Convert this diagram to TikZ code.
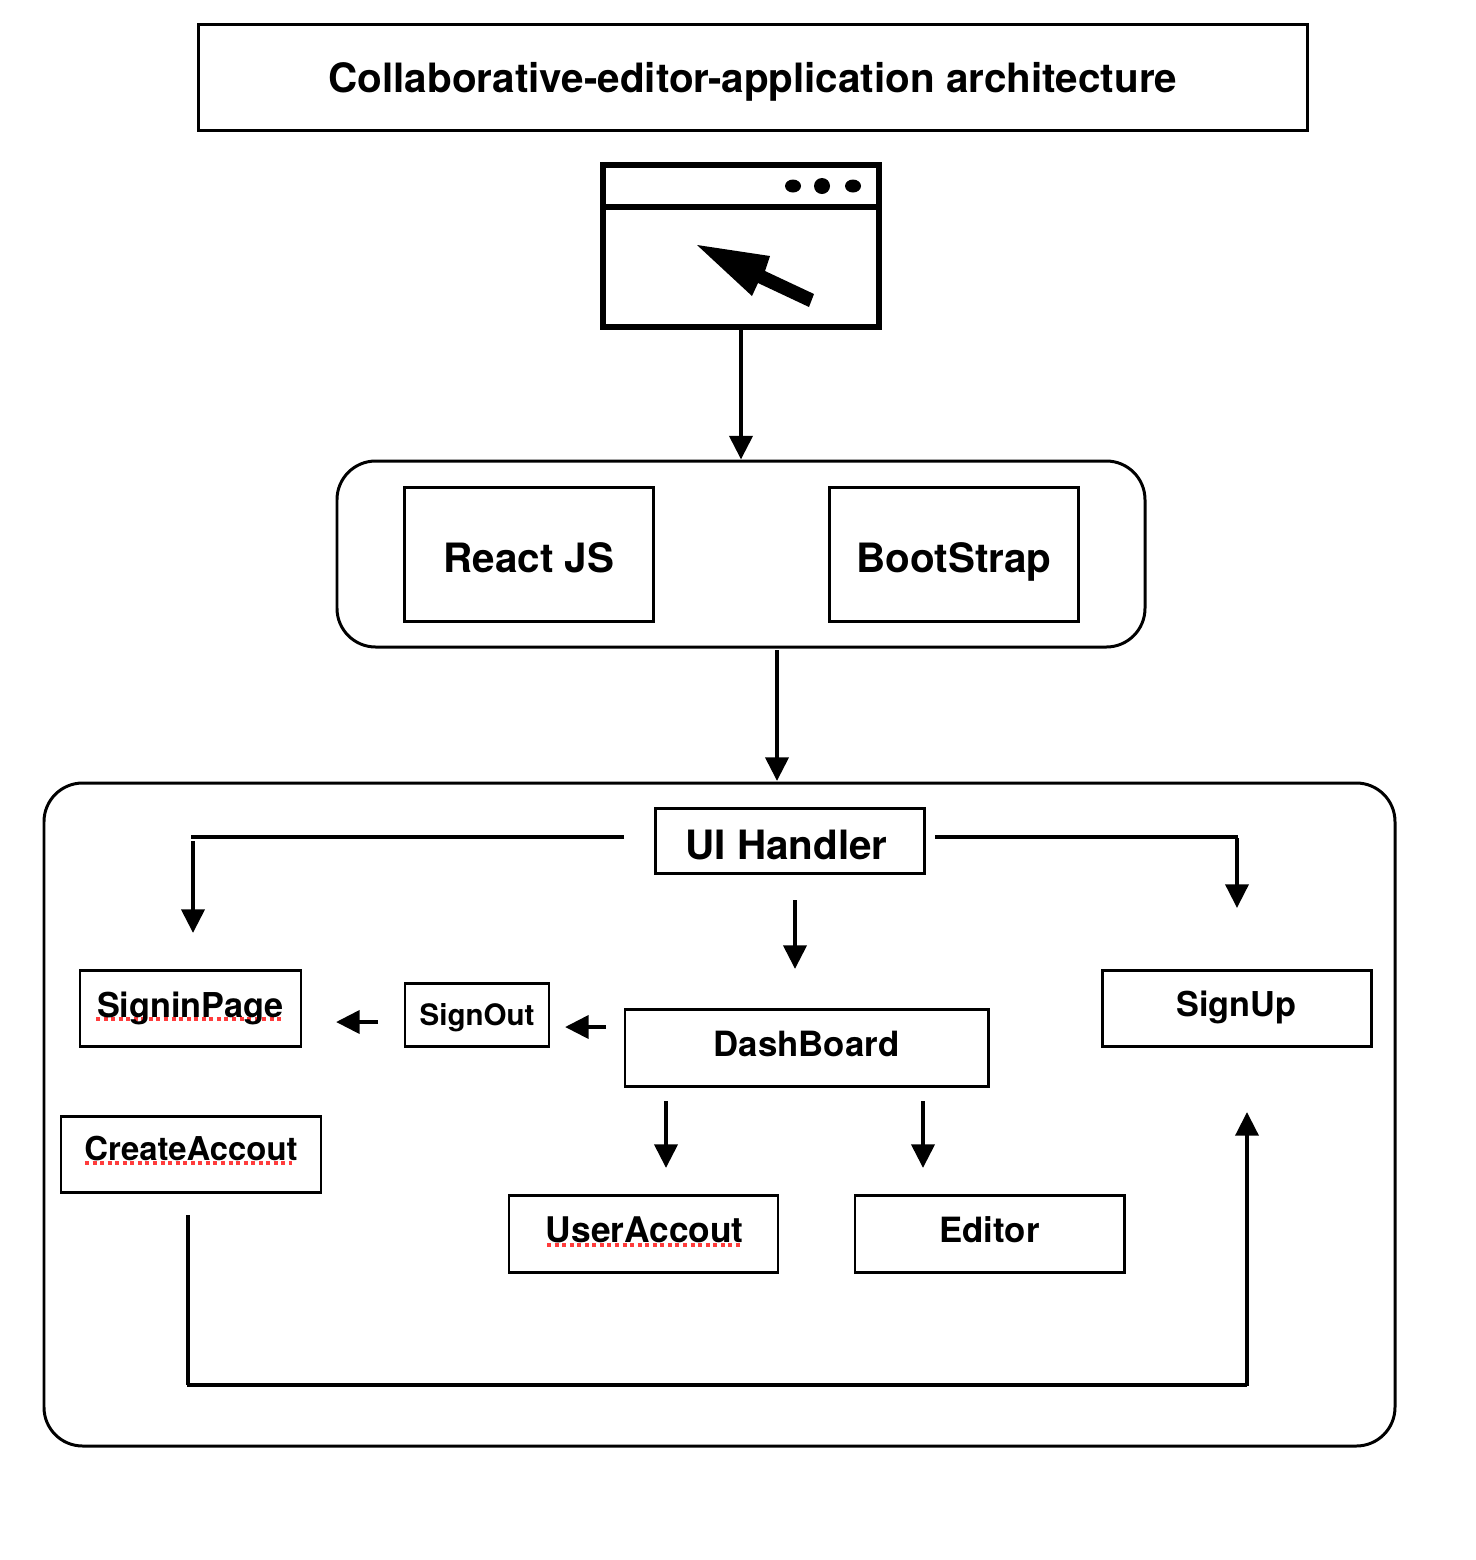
\documentclass[tikz,border=0pt]{standalone}
\usepackage{fontspec}
\setmainfont{TeX Gyre Heros}
\usetikzlibrary{arrows.meta}
\def\u{0.02cm}
\definecolor{squigglered}{RGB}{255,60,60}
\tikzset{
  box/.style={draw,line width=1.7pt,rectangle,inner sep=0pt,text depth=0pt,font=\bfseries\fontsize{19.5}{22}\selectfont},
  bigbox/.style={box,font=\bfseries\fontsize{23}{26}\selectfont},
  group/.style={draw,line width=1.7pt,rectangle,rounded corners=22pt,inner sep=0pt},
  arr/.style={line width=2.6pt,-{Triangle[length=13.5pt,width=13pt]}},
  squiggle/.style={draw=squigglered,line width=2.4pt,dash pattern=on 2.3pt off 2pt},
}
\begin{document}
\begin{tikzpicture}[x=0.02cm,y=-0.02cm]
\useasboundingbox (0,0) rectangle (1476,1560);
\node[bigbox,text height=18.1pt,minimum width=1109*\u,minimum height=106*\u] (title) at (753,77) {Collaborative-editor-application architecture};
% browser window
\node[draw,line width=2.9pt,minimum width=276*\u,minimum height=162*\u,inner sep=0pt] (browser) at (741,246) {};
\draw[line width=2.9pt] (browser.west |- 0,207)--(browser.east |- 0,207);
\fill (793,186) ellipse (8 and 6.5);
\fill (822,186) circle (8);
\fill (853,186) ellipse (8 and 6.5);
\fill (697,245)--(770,256)--(765,271)--(814,294)--(809,307)--(758,283)--(752,296)--cycle;
% client stack
\node[group,minimum width=808*\u,minimum height=186*\u] (stack) at (741,554) {};
\node[bigbox,text height=21.6pt,minimum width=249*\u,minimum height=134*\u] (react) at (529,554) {React JS};
\node[bigbox,text height=21.6pt,minimum width=249*\u,minimum height=134*\u] (bootstrap) at (954,554) {BootStrap};
\draw[arr] (browser.south)--(stack.north);
% ui group
\node[group,minimum width=1351*\u,minimum height=663*\u] (ui) at (719.5,1114.5) {};
\coordinate (stackout) at (777,650);
\coordinate (uiin) at (777,781);
\draw[arr] (stackout)--(uiin);
% spell check marks
\draw[squiggle] (96,1019)--(284,1019);
\draw[squiggle] (85,1163)--(292,1163);
\draw[squiggle] (547,1245)--(743,1245);
\node[bigbox,text height=21.3pt,minimum width=269*\u,minimum height=65*\u] (handler) at (790,840.5) {UI Handler\kern4pt};
\node[box,text height=9.7pt,minimum width=221*\u,minimum height=76*\u] (signin) at (190.5,1008.5) {SigninPage};
\node[box,text height=12.5pt,font=\bfseries\fontsize{16.8}{20}\selectfont,minimum width=144*\u,minimum height=63*\u] (signout) at (477,1014.5) {SignOut};
\node[box,text height=10.4pt,font=\bfseries\fontsize{19.8}{22}\selectfont,minimum width=363*\u,minimum height=77*\u] (dashboard) at (806.5,1047.5) {DashBoard};
\node[box,text height=10.2pt,minimum width=269*\u,minimum height=76*\u] (signup) at (1236.5,1008) {SignUp};
\node[box,text height=7.3pt,font=\bfseries\fontsize{18.7}{22}\selectfont,minimum width=260*\u,minimum height=76*\u] (create) at (191,1154) {CreateAccout};
\node[box,text height=10.4pt,font=\bfseries\fontsize{20.1}{22}\selectfont,minimum width=269*\u,minimum height=77*\u] (useraccout) at (643.5,1233.5) {\kern1.5ptUserAccout};
\node[box,text height=10.4pt,font=\bfseries\fontsize{19.8}{22}\selectfont,minimum width=269*\u,minimum height=77*\u] (editor) at (989.5,1233.5) {Editor};
% free ends of the connectors
\coordinate (hl) at (624,837);
\coordinate (hlc) at (191,837);
\coordinate (hld) at (193,841);
\coordinate (sl) at (193,933);
\coordinate (hr) at (935,837);
\coordinate (hrc) at (1238,837);
\coordinate (hrd) at (1237,838);
\coordinate (sr) at (1237,908);
\coordinate (hd) at (795,900);
\coordinate (dt) at (795,969);
\coordinate (dsoA) at (606,1027);
\coordinate (dsoB) at (565,1027);
\coordinate (soA) at (378,1022);
\coordinate (soB) at (336,1022);
\coordinate (duA) at (666,1101);
\coordinate (duB) at (666,1168);
\coordinate (deA) at (923,1101);
\coordinate (deB) at (923,1168);
\coordinate (cs) at (188,1215);
\coordinate (csc) at (188,1385);
\coordinate (suc) at (1247,1385);
\coordinate (su) at (1247,1112);
\draw[line width=2.8pt] (hl)--(hlc);
\draw[arr] (hld)--(sl);
\draw[line width=2pt] (hr)--(hrc);
\draw[arr,line width=2.4pt] (hrd)--(sr);
\draw[arr] (hd)--(dt);
\draw[arr] (dsoA)--(dsoB);
\draw[arr] (soA)--(soB);
\draw[arr] (duA)--(duB);
\draw[arr] (deA)--(deB);
\draw[line width=2.6pt] (cs)--(csc);
\draw[line width=1.8pt] (186.8,1385)--(suc);
\draw[arr,line width=2.4pt] (1247,1386)--(su);
\end{tikzpicture}
\end{document}
